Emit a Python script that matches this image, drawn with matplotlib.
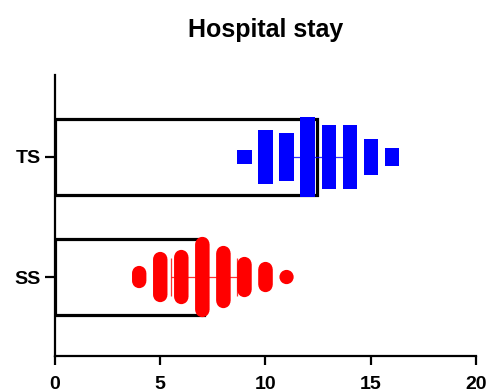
import numpy as np
import matplotlib
matplotlib.use("Agg")
import matplotlib.pyplot as plt

plt.rcParams['font.family'] = ['Liberation Sans', 'DejaVu Sans']

# Data: hospital stay (days) and number of patients per value
groups = ["SS", "TS"]
colors = ["#ff0000", "#0000ff"]
markers = ["o", "s"]
ss_values = [4, 5, 6, 7, 8, 9, 10, 11]
ss_counts = [5, 19, 21, 34, 25, 14, 9, 1]
ts_values = [9, 10, 11, 12, 13, 14, 15, 16]
ts_counts = [1, 21, 18, 34, 26, 26, 12, 3]
x_ticks = [0, 5, 10, 15, 20]
title = "Hospital stay"

values = [ss_values, ts_values]
counts = [ss_counts, ts_counts]

fig = plt.figure(figsize=(4.89, 3.92), dpi=100)
ax = fig.add_axes([55/489, 1-356/392, (476-55)/489, (356-75)/392])

ypos = [0, 1]
spacing = 2/120  # vertical spread between stacked points (data units)
for i, (vals, cnts) in enumerate(zip(values, counts)):
    raw = np.repeat(vals, cnts)
    mean = raw.mean()
    sd = raw.std(ddof=1)
    ax.barh(ypos[i], mean, height=0.64, color="white", edgecolor="black",
            linewidth=2.3, zorder=1)
    for v, c in zip(vals, cnts):
        offs = (np.arange(c) - (c - 1) / 2) * spacing
        ax.scatter(np.full(c, v), ypos[i] + offs, s=105, marker=markers[i],
                   color=colors[i], edgecolors="none", zorder=3)
    ax.errorbar(mean, ypos[i], xerr=sd, fmt="none", ecolor=colors[i],
                elinewidth=0.9, capsize=14, capthick=0.9, zorder=2, alpha=0.8)

ax.set_xlim(0, 20)
ax.set_ylim(-0.658, 1.683)
ax.set_xticks(x_ticks)
ax.set_yticks(ypos)
ax.set_yticklabels(groups)
for sp in ["top", "right"]:
    ax.spines[sp].set_visible(False)
for sp in ["left", "bottom"]:
    ax.spines[sp].set_linewidth(1.6)
ax.tick_params(axis="both", width=1.6, length=6.5, labelsize=14)
ax.tick_params(axis="x", pad=8)
ax.tick_params(axis="y", length=7, pad=3)
for lab in ax.get_xticklabels() + ax.get_yticklabels():
    lab.set_fontweight("bold")
ax.set_title(title, fontsize=18, fontweight="bold", pad=27)

fig.savefig("out.png", dpi=100)
